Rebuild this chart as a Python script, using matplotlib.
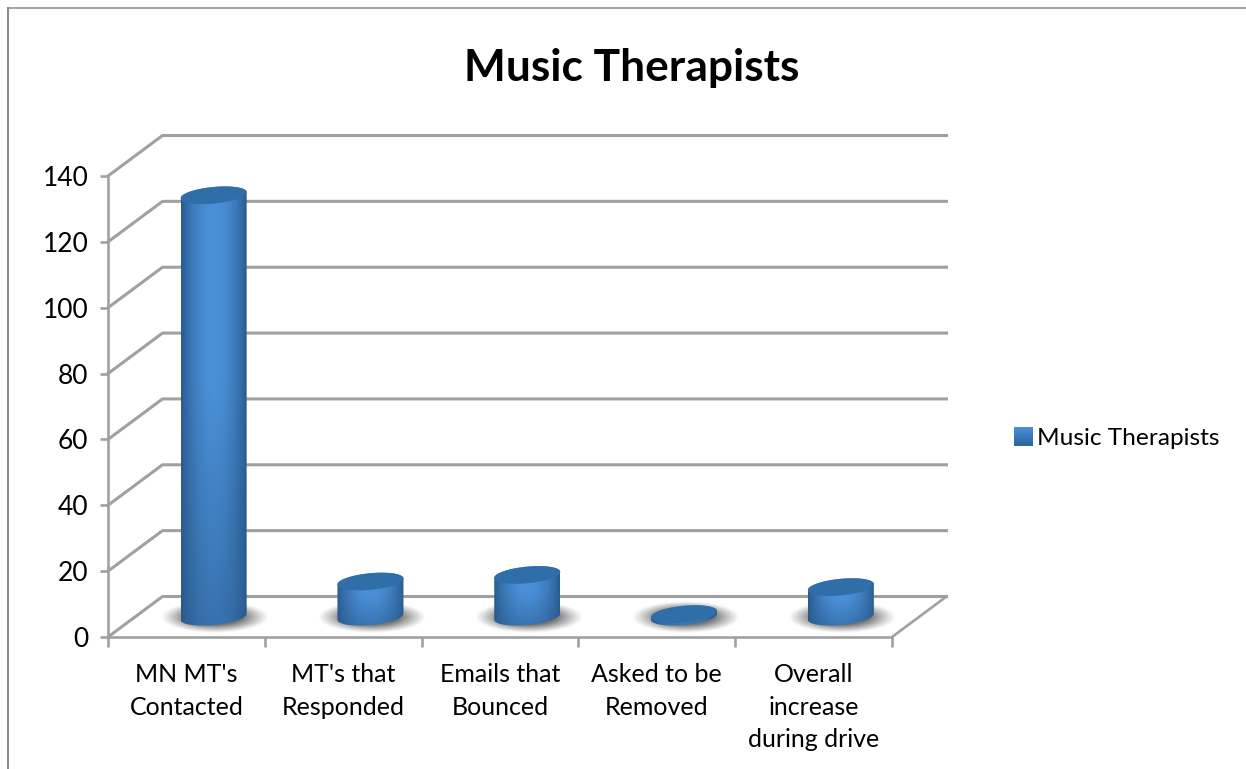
import numpy as np
import matplotlib
matplotlib.use("Agg")
import matplotlib.pyplot as plt
from matplotlib.lines import Line2D
from matplotlib.patches import PathPatch, Patch, Rectangle
from matplotlib.path import Path
from matplotlib.colors import to_rgb
from matplotlib.legend_handler import HandlerBase

categories = ["MN MT's\nContacted", "MT's that\nResponded", "Emails that\nBounced",
              "Asked to be\nRemoved", "Overall\nincrease\nduring drive"]
values = [128, 10.7, 12.7, 0.8, 9]
series_name = "Music Therapists"
title = "Music Therapists"
y_ticks = [0, 20, 40, 60, 80, 100, 120, 140]

W, H = 1246, 769
GRID = "#a0a0a0"
FRAME = "#8c8c8c"
TEXT = "#000000"
plt.rcParams["font.family"] = ["Lato", "DejaVu Sans"]

fig = plt.figure(figsize=(W / 100, H / 100), dpi=100, facecolor="white")
L, R, T, B = 108, 892, 176, 637
ax = fig.add_axes([L / W, 1 - B / H, (R - L) / W, (B - T) / H])
ax.set_facecolor("none")
ax.set_xlim(0, 5)
ax.set_ylim(0, 140)

PX_X = (R - L) / 5
PX_Y = (B - T) / 140
DX = 54.5 / PX_X      # depth of the 3D box in data units
DY = 40.5 / PX_Y
lw = 1.9

# axis furniture
for s in ("top", "right"):
    ax.spines[s].set_visible(False)
for s in ("left", "bottom"):
    ax.spines[s].set_color(GRID)
    ax.spines[s].set_linewidth(lw)
ax.set_yticks(y_ticks)
ax.set_xticks(range(6))
ax.set_xticklabels([])
ax.set_xticks(np.arange(5) + 0.5, minor=True)
ax.set_xticklabels(categories, minor=True, fontsize=18, color=TEXT, linespacing=1.5, va="top")
ax.tick_params(axis="x", which="major", length=7, width=lw, color=GRID)
ax.tick_params(axis="x", which="minor", length=0, pad=19)
ax.tick_params(axis="y", length=6, width=lw, color=GRID, labelsize=19, labelcolor=TEXT, pad=8)

# walls and floor
for v in y_ticks:
    ax.plot([0, DX, 5 + DX], [v, v + DY, v + DY], color=GRID, lw=lw + 0.3,
            clip_on=False, zorder=1, solid_joinstyle="round")
ax.plot([5, 5 + DX], [0, DY], color=GRID, lw=lw, clip_on=False, zorder=1)

# cylinders
WIDTH = 66 / PX_X
A = WIDTH / 2
Bb = 8.3 / PX_Y
SH = 3.0 / PX_Y
tt = np.linspace(0, 2 * np.pi, 121)
edge = np.array(to_rgb("#29598b"))
mid = np.array(to_rgb("#4a90d8"))
TOPC = "#2f6ea8"

def ell(cx, cy, t):
    return cx + A * np.cos(t), cy + Bb * np.sin(t) + SH * np.cos(t)

for i, v in enumerate(values):
    cx = i + 0.5 + DX / 2
    cy = DY / 2
    top = cy + v

    # floor shadow
    nx, ny = 200, 80
    X, Y = np.meshgrid(np.linspace(-1, 1, nx), np.linspace(-1, 1, ny))
    r = np.sqrt(X ** 2 + Y ** 2)
    alpha = np.clip((1 - r) / 0.5, 0, 1) ** 1.1 * 0.85
    img = np.zeros((ny, nx, 4))
    img[..., :3] = 0.36
    img[..., 3] = alpha
    sw, sh = 54 / PX_X, 16 / PX_Y
    ax.imshow(img, extent=(cx + 1.5 / PX_X - sw, cx + 1.5 / PX_X + sw, cy - sh, cy + sh),
              aspect="auto", zorder=2, clip_on=False, interpolation="bilinear")

    # side surface with gradient
    t1 = np.linspace(np.pi, 2 * np.pi, 60)
    bx, by = ell(cx, cy, t1)
    t2 = np.linspace(0, np.pi, 60)
    ux, uy = ell(cx, top, t2)
    verts = np.column_stack([np.r_[bx, ux], np.r_[by, uy]])
    path = Path(np.vstack([verts, verts[0]]), closed=True)
    patch = PathPatch(path, transform=ax.transData, fc="none", ec="none")
    ax.add_patch(patch)
    ymin, ymax = cy - 1.5 * Bb, top + 1.5 * Bb
    gx = np.linspace(-1, 1, 120)
    gy = np.linspace(ymin, ymax, 200)
    GX, GY = np.meshgrid(gx, gy)
    h = np.clip((GY - ymin) / max(25 / PX_Y, 0.55 * (ymax - ymin)), 0, 1)
    k = np.cos(GX * np.pi / 2) ** 0.8
    k = k * (0.45 + 0.55 * h)
    rgb = edge + (mid - edge) * k[..., None]
    im = ax.imshow(rgb, extent=(cx - A, cx + A, ymin, ymax), origin="lower",
                   aspect="auto", zorder=3, clip_on=True, interpolation="bilinear")
    im.set_clip_path(patch)

    # top cap
    ex, ey = ell(cx, top, tt)
    ax.fill(ex, ey, fc=TOPC, ec="none", zorder=4, clip_on=False)

ax.set_xlim(0, 5)
ax.set_ylim(0, 140)

# title and legend
fig.text(632 / W, 1 - 68.5 / H, title, ha="center", va="center", fontsize=31.9,
         fontweight="bold", color=TEXT)

class GradientHandler(HandlerBase):
    def create_artists(self, legend, orig, xd, yd, width, height, fontsize, trans):
        n = 12
        out = []
        c0, c1 = np.array(to_rgb("#4a90d8")), np.array(to_rgb("#2c659f"))
        size = height * 1.1
        for j in range(n):
            col = c0 + (c1 - c0) * j / (n - 1)
            out.append(Rectangle((-xd, -yd + size * (1 - (j + 1) / n) - 0.5), size, size / n + 0.3,
                                 fc=col, ec="none", transform=trans))
        return out

handle = Patch(label=series_name)
fig.legend(handles=[handle], handler_map={Patch: GradientHandler()},
           loc="center left", bbox_to_anchor=(1014 / W, 1 - 438.5 / H), frameon=False,
           fontsize=17.6, labelcolor=TEXT, handlelength=0.75, handletextpad=0.2,
           borderpad=0, borderaxespad=0)

# outer frame of the chart area
fig.add_artist(Line2D([8 / W, 8 / W], [0, 1 - 7.5 / H], color=FRAME, lw=1.5))
fig.add_artist(Line2D([7.5 / W, 1], [1 - 8 / H, 1 - 8 / H], color=FRAME, lw=1.1))

fig.savefig("out.png", dpi=100, facecolor="white")
